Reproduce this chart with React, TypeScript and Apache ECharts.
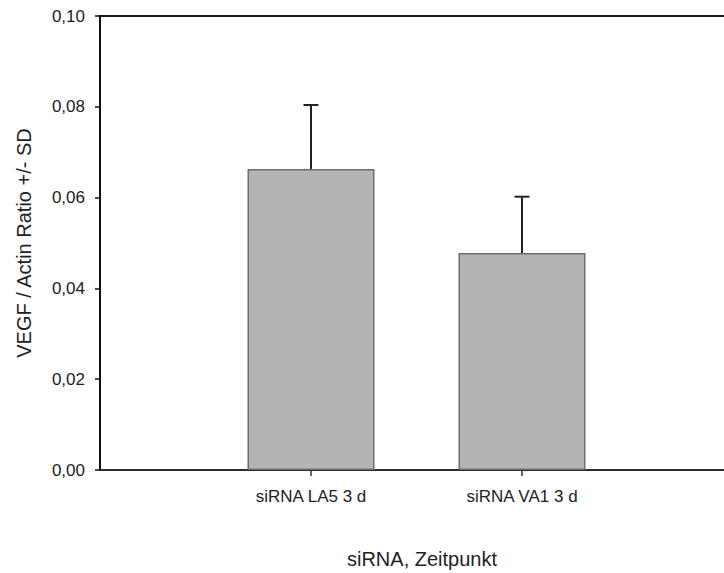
import React, { useEffect, useRef } from "react";
import * as echarts from "echarts";

// Group labels along the x axis (empty slots pad the axis on both sides)
const categories = ["", "siRNA LA5 3 d", "siRNA VA1 3 d", ""];
// Mean VEGF / Actin ratio per group
const means = [null, 0.0663, 0.0478, null];
// Standard deviation per group
const sds = [null, 0.0141, 0.0124, null];
// Y axis ticks
const yMin = 0;
const yMax = 0.1;
const yStep = 0.02;

const FONT = "'Liberation Sans', Arial, sans-serif";

export default function App() {
  const ref = useRef<HTMLDivElement>(null);

  useEffect(() => {
    if (!ref.current) return;
    const chart = echarts.init(ref.current, undefined, { renderer: "svg" });

    const errData = categories
      .map((_, i) => (means[i] == null ? null : [i, means[i], sds[i]]))
      .filter((d) => d !== null);

    chart.setOption({
      animation: false,
      backgroundColor: "#ffffff",
      grid: {
        left: 100,
        top: 16,
        width: 633,
        height: 454,
        containLabel: false,
        outerBoundsMode: "none",
        show: true,
        borderColor: "#1a1a1a",
        borderWidth: 2,
        backgroundColor: "transparent",
      },
      xAxis: {
        type: "category",
        data: categories,
        boundaryGap: false,
        axisLine: { lineStyle: { color: "#333", width: 1.5 } },
        axisTick: {
          show: true,
          length: 6,
          interval: (i: number) => i === 1 || i === 2,
          lineStyle: { color: "#333", width: 1.5 },
        },
        axisLabel: {
          interval: 0,
          margin: 18,
          fontFamily: FONT,
          fontSize: 17,
          color: "#222",
        },
        splitLine: { show: false },
      },
      yAxis: {
        type: "value",
        min: yMin,
        max: yMax,
        interval: yStep,
        name: "VEGF / Actin Ratio +/- SD",
        nameLocation: "middle",
        nameRotate: 90,
        nameGap: 66,
        nameTextStyle: { fontFamily: FONT, fontSize: 20, color: "#222" },
        axisLine: { show: true, lineStyle: { color: "#111", width: 2 } },
        axisTick: { show: true, length: 5, lineStyle: { color: "#111", width: 1.5 } },
        axisLabel: {
          margin: 15,
          fontFamily: FONT,
          fontSize: 17,
          color: "#222",
          formatter: (v: number) => v.toFixed(2).replace(".", ","),
        },
        splitLine: { show: false },
      },
      graphic: [
        {
          type: "text",
          x: 422,
          y: 559,
          style: {
            text: "siRNA, Zeitpunkt",
            fontFamily: FONT,
            fontSize: 20,
            fill: "#222",
            align: "center",
            verticalAlign: "middle",
          },
        },
      ],
      series: [
        {
          type: "bar",
          data: means,
          barWidth: 127,
          itemStyle: { color: "#b4b4b4", borderColor: "#6e6e6e", borderWidth: 1.5 },
          z: 2,
        },
        {
          type: "custom",
          data: errData,
          z: 3,
          renderItem: (params: any, api: any) => {
            const idx = api.value(0);
            const m = api.value(1);
            const s = api.value(2);
            const base = api.coord([idx, m]);
            const top = api.coord([idx, m + s]);
            const half = 7.5;
            const style = { stroke: "#222", lineWidth: 2 };
            return {
              type: "group",
              children: [
                { type: "line", shape: { x1: base[0], y1: base[1], x2: top[0], y2: top[1] }, style },
                { type: "line", shape: { x1: top[0] - half, y1: top[1], x2: top[0] + half, y2: top[1] }, style },
              ],
            };
          },
        },
      ],
    });

    return () => chart.dispose();
  }, []);

  return (
    <div
      ref={ref}
      style={{ position: "fixed", left: 0, top: 0, width: 724, height: 573, background: "#fff" }}
    />
  );
}
